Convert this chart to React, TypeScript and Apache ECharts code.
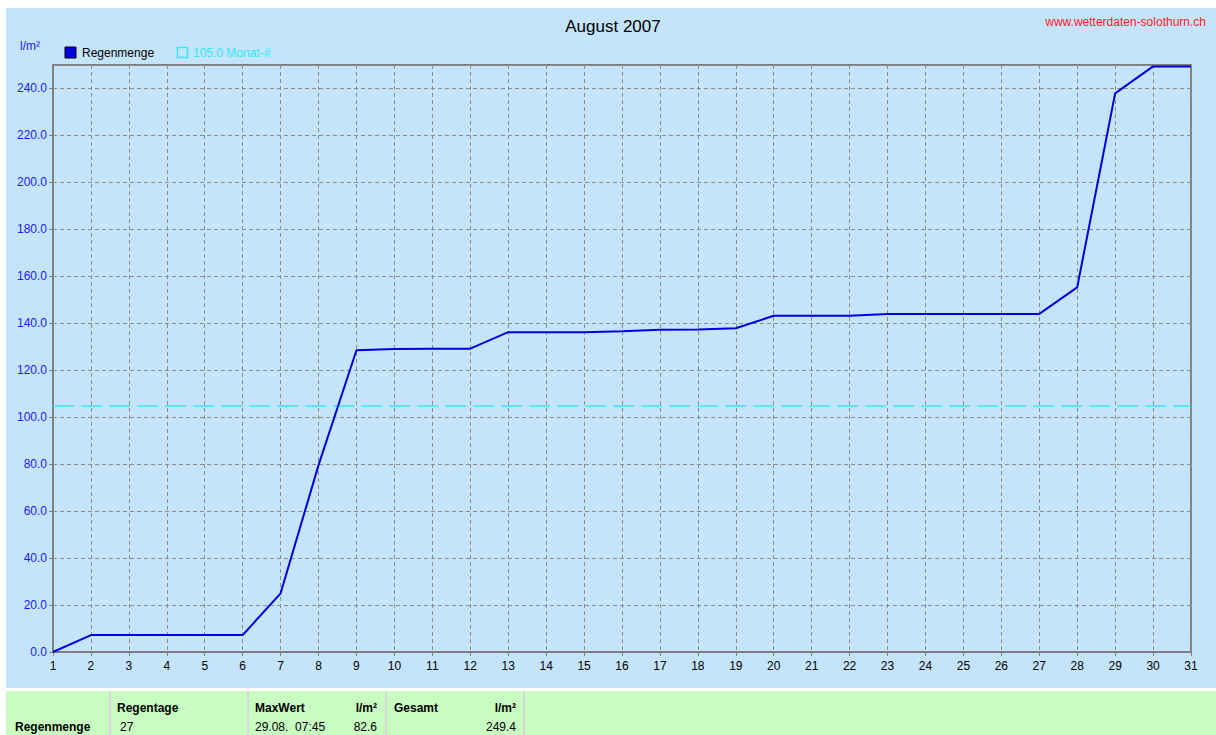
import React, { useEffect, useRef } from "react";
import * as echarts from "echarts";

const days = [1, 2, 3, 4, 5, 6, 7, 8, 9, 10, 11, 12, 13, 14, 15, 16, 17, 18, 19, 20, 21, 22, 23, 24, 25, 26, 27, 28, 29, 30, 31];
const rain = [0, 7.2, 7.2, 7.2, 7.2, 7.2, 25.0, 79.6, 128.5, 129.0, 129.2, 129.2, 136.2, 136.2, 136.2, 136.6, 137.2, 137.4, 137.9, 143.2, 143.2, 143.2, 144.0, 144.0, 144.0, 144.0, 144.0, 155.3, 237.9, 249.4, 249.4];
const monthAvg = 105.0;
const title = "August 2007";
const site = "www.wetterdaten-solothurn.ch";
const seriesName = "Regenmenge";
const avgLabel = "105.0 Monat-#";
const unit = "l/m²";
const tableHeaders = ["Regentage", "MaxWert", "l/m²", "Gesamt", "l/m²"];
const tableValues = ["27", "29.08.  07:45", "82.6", "", "249.4"];

export default function App() {
  const ref = useRef<HTMLDivElement>(null);
  useEffect(() => {
    const chart = echarts.init(ref.current!, null, { renderer: "svg" });
    const font = "'Liberation Sans', Arial, sans-serif";
    const bold = { fontFamily: font, fontSize: 12, fontWeight: "bold" as const, fill: "#000" };
    const norm = { fontFamily: font, fontSize: 12, fill: "#000" };
    chart.setOption({
      animation: false,
      backgroundColor: "#ffffff",
      graphic: [
        { type: "rect", z: -10, shape: { x: 6, y: 8, width: 1210, height: 680 }, style: { fill: "#c4e4fc" } },
        { type: "rect", z: -10, shape: { x: 6, y: 691, width: 1210, height: 44 }, style: { fill: "#c8fcc0" } },
        { type: "rect", z: -9, shape: { x: 109, y: 691, width: 2, height: 44 }, style: { fill: "#d8d8d8" } },
        { type: "rect", z: -9, shape: { x: 247, y: 691, width: 2, height: 44 }, style: { fill: "#d8d8d8" } },
        { type: "rect", z: -9, shape: { x: 385, y: 691, width: 2, height: 44 }, style: { fill: "#d8d8d8" } },
        { type: "rect", z: -9, shape: { x: 523, y: 691, width: 2, height: 44 }, style: { fill: "#d8d8d8" } },
        { type: "text", x: 613, y: 26, style: { text: title, fontFamily: font, fontSize: 17, fill: "#000", align: "center", verticalAlign: "middle" } },
        { type: "text", x: 1206, y: 22, style: { text: site, fontFamily: font, fontSize: 12, fill: "#ff2020", align: "right", verticalAlign: "middle" } },
        { type: "text", x: 20, y: 46, style: { text: unit, fontFamily: font, fontSize: 12, fill: "#1a1aff", verticalAlign: "middle" } },
        { type: "rect", shape: { x: 65, y: 47, width: 11, height: 11 }, style: { fill: "#0000e0", stroke: "#000", lineWidth: 1 } },
        { type: "text", x: 82, y: 53, style: { text: seriesName, fontFamily: font, fontSize: 12, fill: "#000", verticalAlign: "middle" } },
        { type: "rect", shape: { x: 177.5, y: 47.5, width: 10, height: 10 }, style: { fill: "none", stroke: "#30e8f8", lineWidth: 1.5 } },
        { type: "text", x: 193, y: 53, style: { text: avgLabel, fontFamily: font, fontSize: 12, fill: "#30e8f8", verticalAlign: "middle" } },
        { type: "text", x: 117, y: 708, style: { ...bold, text: tableHeaders[0], verticalAlign: "middle" } },
        { type: "text", x: 255, y: 708, style: { ...bold, text: tableHeaders[1], verticalAlign: "middle" } },
        { type: "text", x: 377, y: 708, style: { ...bold, text: tableHeaders[2], align: "right", verticalAlign: "middle" } },
        { type: "text", x: 394, y: 708, style: { ...bold, text: tableHeaders[3], verticalAlign: "middle" } },
        { type: "text", x: 516, y: 708, style: { ...bold, text: tableHeaders[4], align: "right", verticalAlign: "middle" } },
        { type: "text", x: 15, y: 727, style: { ...bold, text: seriesName, verticalAlign: "middle" } },
        { type: "text", x: 120, y: 727, style: { ...norm, text: tableValues[0], verticalAlign: "middle" } },
        { type: "text", x: 255, y: 727, style: { ...norm, text: tableValues[1], verticalAlign: "middle" } },
        { type: "text", x: 377, y: 727, style: { ...norm, text: tableValues[2], align: "right", verticalAlign: "middle" } },
        { type: "text", x: 516, y: 727, style: { ...norm, text: tableValues[4], align: "right", verticalAlign: "middle" } },
      ],
      grid: { left: 53, right: 25, top: 65, bottom: 83, show: true, borderColor: "#808080", borderWidth: 2, backgroundColor: "transparent" },
      xAxis: {
        type: "value",
        min: 1,
        max: 31,
        interval: 1,
        axisLine: { show: true, lineStyle: { color: "#808080", width: 2 } },
        axisTick: { show: true, length: 4, lineStyle: { color: "#808080" } },
        axisLabel: { color: "#000", fontFamily: font, fontSize: 12, margin: 8 },
        splitLine: { show: true, lineStyle: { color: "#8c8c8c", type: [4, 3], width: 1 } },
      },
      yAxis: {
        type: "value",
        min: 0,
        max: 250,
        interval: 20,
        axisLine: { show: true, lineStyle: { color: "#808080", width: 2 } },
        axisTick: { show: true, length: 4, lineStyle: { color: "#808080" } },
        axisLabel: { color: "#1a1aff", fontFamily: font, fontSize: 12, margin: 6, showMaxLabel: false, formatter: (v: number) => v.toFixed(1) },
        splitLine: { show: true, lineStyle: { color: "#8c8c8c", type: [4, 3], width: 1 } },
      },
      series: [
        {
          name: seriesName,
          type: "line",
          z: 3,
          data: days.map((d, i) => [d, rain[i]]),
          symbol: "none",
          lineStyle: { color: "#0000e0", width: 2 },
          markLine: {
            silent: true,
            symbol: "none",
            z: 2,
            label: { show: false },
            emphasis: { disabled: true },
            lineStyle: { color: "#38e8f8", opacity: 1, type: [21, 7], width: 1.5 },
            data: [{ yAxis: monthAvg }],
          },
        },
      ],
    });
    return () => chart.dispose();
  }, []);
  return <div ref={ref} style={{ position: "absolute", left: 0, top: 0, width: 1216, height: 735 }} />;
}
